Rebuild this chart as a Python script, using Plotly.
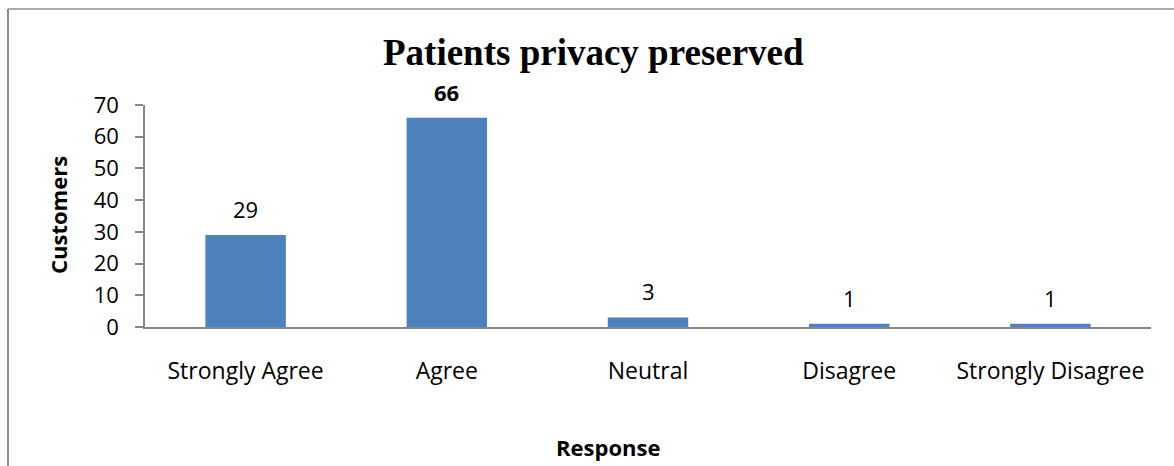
import plotly.graph_objects as go

categories = ["Strongly Agree", "Agree", "Neutral", "Disagree", "Strongly Disagree"]
customers = [29, 66, 3, 1, 1]
label_bold = [False, True, False, False, False]
y_ticks = [0, 10, 20, 30, 40, 50, 60, 70]

W, H = 1174, 466
L, R, T, B = 145, 1151, 105, 327  # plot area in pixels
pw, ph = R - L, B - T

def px(x):
    return (x - L) / pw

def py(y):
    return (B - y) / ph

FONT = "Open Sans"
FS = 22
TFS = 23
BAR = "#4F81BD"
AX = "#868686"

fig = go.Figure(go.Bar(x=categories, y=customers, marker=dict(color=BAR, line=dict(width=0)),
                       hoverinfo="skip"))

annotations = []
for c, v, b in zip(categories, customers, label_bold):
    annotations.append(dict(x=c, y=v, xref="x", yref="y", text=f"<b>{v}</b>" if b else str(v),
                            showarrow=False, yshift=26, yanchor="middle",
                            font=dict(family=FONT, size=FS, color="black")))

annotations += [
    dict(x=px(593), y=py(52), xref="paper", yref="paper", text="<b>Patients privacy preserved</b>",
         showarrow=False, xanchor="center", yanchor="middle",
         font=dict(family="Liberation Serif", size=37, color="black")),
    dict(x=px(58), y=py(215), xref="paper", yref="paper", text="<b>Customers</b>", textangle=-90,
         showarrow=False, xanchor="center", yanchor="middle",
         font=dict(family=FONT, size=FS, color="black")),
    dict(x=px(608), y=py(447), xref="paper", yref="paper", text="<b>Response</b>",
         showarrow=False, xanchor="center", yanchor="middle",
         font=dict(family=FONT, size=FS, color="black")),
]

shapes = [
    dict(type="line", xref="paper", yref="paper", x0=px(8), x1=px(8), y0=py(9), y1=py(H + 5),
         line=dict(color="#8c8c8c", width=2)),
    dict(type="line", xref="paper", yref="paper", x0=px(8), x1=px(W + 5), y0=py(9), y1=py(9),
         line=dict(color="#8c8c8c", width=1.5)),
    dict(type="line", xref="paper", yref="paper", x0=px(137), x1=px(145), y0=0, y1=0,
         line=dict(color=AX, width=1.5)),
]

fig.update_layout(
    width=W, height=H,
    margin=dict(l=L, r=W - R, t=T, b=H - B, pad=0),
    paper_bgcolor="white", plot_bgcolor="white",
    bargap=0.6, showlegend=False,
    annotations=annotations, shapes=shapes,
    font=dict(family=FONT, size=FS, color="black"),
)
fig.update_xaxes(showline=True, linecolor=AX, linewidth=1.5, showgrid=False, ticks="",
                 ticklabelstandoff=23, tickfont=dict(family=FONT, size=TFS, color="black"),
                 zeroline=False, fixedrange=True)
fig.update_yaxes(range=[0, 70], tickvals=y_ticks, showline=True, linecolor=AX, linewidth=1.5,
                 showgrid=False, ticks="outside", ticklen=8, tickcolor=AX, tickwidth=1.5,
                 ticklabelstandoff=12, tickfont=dict(family=FONT, size=FS, color="black"),
                 zeroline=False, fixedrange=True)

fig.write_html("out.html", config=dict(displayModeBar=False),
               post_script="document.body.style.margin='0px';document.body.style.overflow='hidden';")
